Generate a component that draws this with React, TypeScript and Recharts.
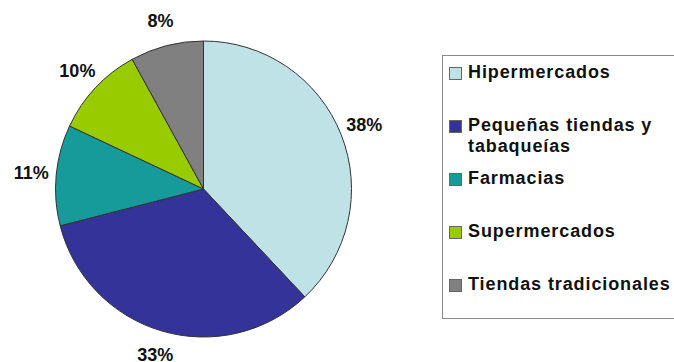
import React from 'react';
import { PieChart, Pie, Cell } from 'recharts';

// Market share by retail channel
const categories = [
  'Hipermercados',
  'Pequeñas tiendas y tabaqueías',
  'Farmacias',
  'Supermercados',
  'Tiendas tradicionales',
];
const shares = [38, 33, 11, 10, 8];
const colors = ['#bfe2e6', '#333399', '#179a9a', '#99cc00', '#808080'];

const data = categories.map((name, i) => ({ name, value: shares[i] }));

const RADIAN = Math.PI / 180;
const FONT = '"Liberation Sans", Arial, sans-serif';

const renderLabel = (props: any) => {
  const { cx, cy, midAngle, outerRadius, value } = props;
  const r = outerRadius + 25;
  const x = cx + r * Math.cos(-midAngle * RADIAN);
  const y = cy + r * Math.sin(-midAngle * RADIAN);
  return (
    <text
      x={x}
      y={y}
      textAnchor="middle"
      dominantBaseline="central"
      fontFamily={FONT}
      fontWeight="bold"
      fontSize={18}
      fill="#111"
    >
      {`${value}%`}
    </text>
  );
};

const LegendBox = () => (
  <div
    style={{
      position: 'absolute',
      left: 442,
      top: 55,
      width: 250,
      height: 264,
      border: '1.5px solid #8a8a8a',
      boxSizing: 'border-box',
      background: '#fff',
      fontFamily: FONT,
      fontWeight: 'bold',
      fontSize: 18,
      letterSpacing: 0.9,
      color: '#111',
    }}
  >
    {categories.map((name, i) => (
      <div
        key={name}
        style={{
          position: 'absolute',
          left: 6,
          top: 6 + i * 53,
          display: 'flex',
          alignItems: 'flex-start',
        }}
      >
        <span
          style={{
            display: 'inline-block',
            width: 13,
            height: 13,
            marginTop: 5,
            background: colors[i],
            border: '1px solid #666',
            boxSizing: 'border-box',
            flex: '0 0 auto',
          }}
        />
        <span style={{ marginLeft: 6, width: 215, lineHeight: '21px' }}>{name}</span>
      </div>
    ))}
  </div>
);

export default function App() {
  return (
    <div
      style={{
        position: 'fixed',
        left: 0,
        top: 0,
        width: 674,
        height: 362,
        overflow: 'hidden',
        background: '#fff',
      }}
    >
      <PieChart width={674} height={362} margin={{ top: 0, right: 0, bottom: 0, left: 0 }}>
        <Pie
          data={data}
          dataKey="value"
          nameKey="name"
          cx={203.5}
          cy={189}
          outerRadius={148}
          startAngle={90}
          endAngle={-270}
          stroke="#333"
          strokeWidth={1}
          label={renderLabel}
          labelLine={false}
          isAnimationActive={false}
        >
          {data.map((d, i) => (
            <Cell key={d.name} fill={colors[i]} />
          ))}
        </Pie>
      </PieChart>
      <LegendBox />
    </div>
  );
}
